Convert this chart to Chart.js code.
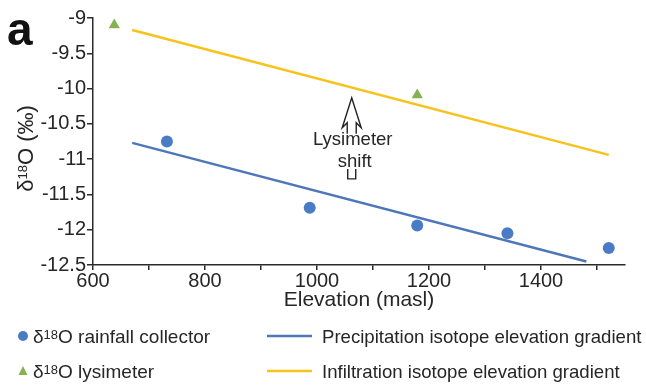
<!DOCTYPE html>
<html><head><meta charset="utf-8">
<script src="https://cdn.jsdelivr.net/npm/chart.js@4.4.1/dist/chart.umd.min.js"></script>
<style>html,body{margin:0;padding:0;background:#fff}</style>
</head><body>
<canvas id="c" width="646" height="387"></canvas>
<script>
const FONT = '"Liberation Sans", Arial, sans-serif';
const TEXT = '#262626';
const AXIS = '#2b2b2b';

// ---- data ----
const rainfallElevation = [732, 987, 1179, 1340, 1521];
const rainfallD18O      = [-10.75, -11.69, -11.94, -12.05, -12.26];
const lysimeterElevation = [638, 1179];
const lysimeterD18O      = [-9.10, -10.09];
const precipGradientElevation = [670, 1481];
const precipGradientD18O      = [-10.77, -12.45];
const infilGradientElevation  = [670, 1521];
const infilGradientD18O       = [-9.17, -10.94];
const xTickLabels = ['600', '800', '1000', '1200', '1400'];
const yTickLabels = ['-12.5', '-12', '-11.5', '-11', '-10.5', '-10', '-9.5', '-9'];
const seriesNames = ['rainfall collector', 'lysimeter',
  'Precipitation isotope elevation gradient', 'Infiltration isotope elevation gradient'];
const shiftArrow = { elevation: 1062, from: -11.28, to: -10.13, text: ['Lysimeter', 'shift'] };
const panelLetter = 'a';
const xTitle = 'Elevation (masl)';

const BLUE_PT = '#4a7cc6', BLUE_LN = '#4d77b9', YELLOW = '#f7c21b', GREEN = '#86b153';

const pts = (xs, ys) => xs.map((x, i) => ({ x, y: ys[i] }));

// rich text: parts = [text, size, sup]
function richWidth(ctx, parts) {
  let w = 0;
  for (const [t, s] of parts) { ctx.font = `${s}px ${FONT}`; w += ctx.measureText(t).width; }
  return w;
}
function drawRich(ctx, parts, x, y, mainSize) {
  let cx = x;
  for (const [t, s, sup] of parts) {
    ctx.font = `${s}px ${FONT}`;
    const rise = sup ? 0.716 * (mainSize - s) : 0;
    ctx.fillText(t, cx, y - rise);
    cx += ctx.measureText(t).width;
  }
}

const extras = {
  id: 'extras',
  afterDatasetsDraw(chart) {
    const { ctx, scales: { x, y } } = chart;
    ctx.save();
    // lysimeter shift arrow
    const ax = x.getPixelForValue(shiftArrow.elevation);
    const tipY = y.getPixelForValue(shiftArrow.to);
    const botY = y.getPixelForValue(shiftArrow.from);
    ctx.strokeStyle = '#222'; ctx.lineWidth = 1.4; ctx.lineJoin = 'miter';
    ctx.beginPath();
    ctx.moveTo(ax - 4.5, tipY + 36);
    ctx.lineTo(ax - 4.5, tipY + 25);
    ctx.lineTo(ax - 9.5, tipY + 30);
    ctx.lineTo(ax, tipY);
    ctx.lineTo(ax + 9.5, tipY + 30);
    ctx.lineTo(ax + 4.5, tipY + 25);
    ctx.lineTo(ax + 4.5, tipY + 36);
    ctx.stroke();
    ctx.beginPath();
    ctx.moveTo(ax - 4, botY - 10);
    ctx.lineTo(ax - 4, botY);
    ctx.lineTo(ax + 4, botY);
    ctx.lineTo(ax + 4, botY - 10);
    ctx.stroke();
    ctx.fillStyle = TEXT; ctx.textAlign = 'center'; ctx.textBaseline = 'alphabetic';
    ctx.font = `18.5px ${FONT}`;
    ctx.fillText(shiftArrow.text[0], ax + 1, tipY + 47);
    ctx.fillText(shiftArrow.text[1], ax + 3, tipY + 69);
    ctx.restore();
  },
  afterDraw(chart) {
    const { ctx, chartArea } = chart;
    ctx.save();
    ctx.fillStyle = TEXT;
    ctx.textBaseline = 'alphabetic';
    ctx.textAlign = 'left';
    // panel letter
    ctx.font = `bold 46px ${FONT}`;
    ctx.fillStyle = '#111';
    ctx.fillText(panelLetter, 7, 45);
    ctx.fillStyle = TEXT;
    // y-axis title  δ18O (‰)
    const yParts = [['δ', 22], ['18', 13, true], ['O (‰)', 22]];
    const w = richWidth(ctx, yParts);
    ctx.translate(25, (chartArea.top + chartArea.bottom) / 2 + 7);
    ctx.rotate(-Math.PI / 2);
    drawRich(ctx, yParts, -w / 2, 8, 22);
    ctx.setTransform(1, 0, 0, 1, 0, 0);

    // legend
    const ds = chart.data.datasets;
    const r1 = 336, r2 = 371;
    ctx.fillStyle = ds[0].backgroundColor;
    ctx.beginPath(); ctx.arc(23, r1, 5, 0, Math.PI * 2); ctx.fill();
    ctx.fillStyle = ds[1].backgroundColor;
    ctx.beginPath(); ctx.moveTo(23, r2 - 5); ctx.lineTo(27.5, r2 + 4); ctx.lineTo(18.5, r2 + 4); ctx.closePath(); ctx.fill();
    ctx.lineWidth = 2.5;
    ctx.strokeStyle = ds[2].borderColor;
    ctx.beginPath(); ctx.moveTo(267, r1); ctx.lineTo(312, r1); ctx.stroke();
    ctx.strokeStyle = ds[3].borderColor;
    ctx.beginPath(); ctx.moveTo(267, r2); ctx.lineTo(312, r2); ctx.stroke();
    ctx.fillStyle = TEXT;
    const LS = 18.6, L1 = 19;
    drawRich(ctx, [['δ', L1], ['18', 13, true], ['O ' + seriesNames[0], L1]], 33, r1 + 6.8, L1);
    drawRich(ctx, [['δ', L1], ['18', 13, true], ['O ' + seriesNames[1], L1]], 33, r2 + 6.8, L1);
    ctx.font = `${LS}px ${FONT}`;
    ctx.fillText(seriesNames[2], 322, r1 + 6.7);
    ctx.fillText(seriesNames[3], 322, r2 + 6.7);
    ctx.restore();
  }
};

new Chart(document.getElementById('c'), {
  type: 'scatter',
  data: {
    datasets: [
      { label: 'δ18O ' + seriesNames[0], data: pts(rainfallElevation, rainfallD18O),
        backgroundColor: BLUE_PT, borderColor: BLUE_PT, pointStyle: 'circle', pointRadius: 6, pointBorderWidth: 0 },
      { label: 'δ18O ' + seriesNames[1], data: pts(lysimeterElevation, lysimeterD18O),
        backgroundColor: GREEN, borderColor: GREEN, pointStyle: 'triangle', pointRadius: 6.5, pointBorderWidth: 0 },
      { label: seriesNames[2], data: pts(precipGradientElevation, precipGradientD18O), showLine: true,
        borderColor: BLUE_LN, backgroundColor: BLUE_LN, borderWidth: 2.5, pointRadius: 0 },
      { label: seriesNames[3], data: pts(infilGradientElevation, infilGradientD18O), showLine: true,
        borderColor: YELLOW, backgroundColor: YELLOW, borderWidth: 2.5, pointRadius: 0 }
    ]
  },
  options: {
    responsive: false,
    animation: false,
    devicePixelRatio: 1,
    layout: { padding: { left: 0, top: 18, right: 21, bottom: 74 } },
    plugins: { legend: { display: false }, tooltip: { enabled: false } },
    scales: {
      x: {
        type: 'linear', min: 600, max: 1550,
        afterFit: s => { s.height = 48; },
        border: { display: true, color: AXIS, width: 1.5 },
        grid: { drawOnChartArea: false, drawTicks: true, tickLength: 5, color: AXIS, lineWidth: 1.5 },
        ticks: { stepSize: 100, includeBounds: false, autoSkip: false, maxRotation: 0, padding: 1,
          color: TEXT, font: { family: FONT, size: 20, lineHeight: 1 },
          callback: v => xTickLabels.includes(String(v)) ? String(v) : '' },
        title: { display: true, text: xTitle, color: TEXT, font: { family: FONT, size: 21 }, padding: 0 }
      },
      y: {
        type: 'linear', min: -12.5, max: -9,
        afterFit: s => { s.width = 93; },
        border: { display: true, color: AXIS, width: 1.5 },
        grid: { drawOnChartArea: false, drawTicks: true, tickLength: 6, color: AXIS, lineWidth: 1.5 },
        ticks: { stepSize: 0.5, autoSkip: false, padding: 1, color: TEXT,
          font: { family: FONT, size: 20, lineHeight: 1 },
          callback: (v, i) => yTickLabels[i] }
      }
    }
  },
  plugins: [extras]
});
</script>
</body></html>
